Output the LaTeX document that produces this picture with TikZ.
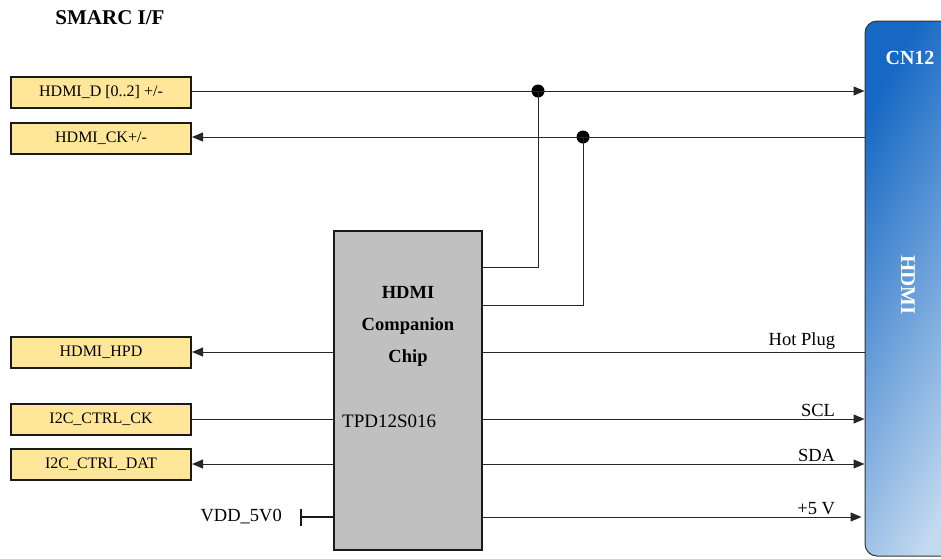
\documentclass[tikz,border=0pt]{standalone}
\usepackage{fontspec}
\setmainfont{Liberation Serif}
\usetikzlibrary{arrows.meta}
\definecolor{sigyellow}{RGB}{255,230,153}
\definecolor{chipgray}{RGB}{192,192,192}
\definecolor{cnA}{RGB}{22,104,196}
\definecolor{cnB}{RGB}{196,218,240}
\begin{document}
\begin{tikzpicture}[x=1pt,y=-1pt,
  sig/.style={draw=black!90, fill=sigyellow, line width=2pt, minimum width=180pt, minimum height=31pt, inner sep=0pt, font=\fontsize{16}{18}\selectfont},
  chipbox/.style={draw=black!90, fill=chipgray, line width=2pt, minimum width=148pt, minimum height=319pt, inner sep=0pt},
  cnbox/.style={draw=black!80, line width=1pt, rounded corners=12pt, shading=axis, top color=cnA, bottom color=cnB, shading angle=62, minimum width=110pt, minimum height=535pt, inner sep=0pt},
  wire/.style={line width=1pt, draw=black!85},
  arr/.style={wire, -{Triangle[length=11pt,width=9pt]}},
  jdot/.style={circle, fill=black, inner sep=0pt, minimum size=13pt},
  lbl/.style={font=\fontsize{18.5}{20}\selectfont, anchor=south east, inner sep=2pt, xshift=-27pt}
]
\useasboundingbox (0,0) rectangle (941,558);

\node[font=\bfseries\fontsize{21}{24}\selectfont] (title) at (110,18) {SMARC I/F};

\node[sig] (d) at (101,92) {HDMI\_D [0..2] +/-};
\node[sig] (ck) at (101,138) {HDMI\_CK+/-};
\node[sig] (hpd) at (101,352) {HDMI\_HPD};
\node[sig] (ick) at (101,419) {I2C\_CTRL\_CK};
\node[sig] (idat) at (101,464) {I2C\_CTRL\_DAT};

\node[chipbox] (chip) at (408,390.5) {};
\node[font=\bfseries\fontsize{18.5}{32}\selectfont, align=center] (ctext) at (408,326) {HDMI\\Companion\\Chip};
\node[font=\fontsize{19}{22}\selectfont, anchor=west, inner sep=0pt] (tpd) at (342,421) {TPD12S016};

\node[cnbox] (cn) at (920,288.5) {};
\node[font=\bfseries\fontsize{20}{22}\selectfont, text=white] (cnt) at (910,58) {CN12};
\node[font=\bfseries\fontsize{21}{24}\selectfont, text=white, rotate=-90] (cnh) at (908,285) {HDMI};

\node[jdot] (j1) at (538,91) {};
\node[jdot] (j2) at (583,137) {};

\draw[arr] (d.east |- j1) -- (cn.west |- j1);
\draw[arr] (cn.west |- j2) -- (ck.east |- j2);
\draw[wire] ([yshift=-37pt]chip.north east) -| (j1.center);
\draw[wire] ([yshift=-75pt]chip.north east) -| (j2.center);

\draw[arr] (chip.west |- hpd) -- (hpd.east);
\draw[wire] (ick.east) -- (chip.west |- ick);
\draw[arr] (chip.west |- idat) -- (idat.east);

\draw[wire] (chip.east |- hpd) -- (cn.west |- hpd) node[lbl, pos=1] {Hot Plug};
\draw[arr] (chip.east |- ick) -- (cn.west |- ick) node[lbl, pos=1] {SCL};
\draw[arr] (chip.east |- idat) -- (cn.west |- idat) node[lbl, pos=1] {SDA};

\coordinate (vdd) at (300,517);
\node[font=\fontsize{18.5}{20}\selectfont, anchor=east, inner sep=0pt] (vddt) at (282,517) {VDD\_5V0};
\draw[line width=2pt, draw=black!90, {Bar[width=17pt]}-] (vdd) -- (chip.west |- vdd);
\draw[arr] (chip.east |- vdd) -- ([xshift=-3pt]cn.west |- vdd) node[lbl, pos=1, xshift=3pt] {+5 V};
\end{tikzpicture}
\end{document}
